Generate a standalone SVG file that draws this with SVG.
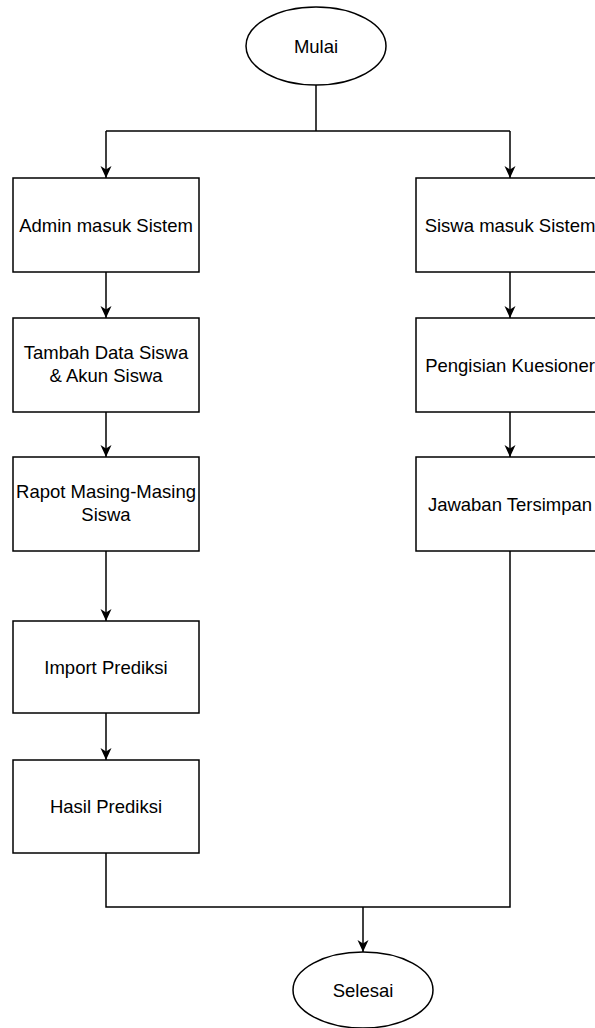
<svg xmlns="http://www.w3.org/2000/svg" width="595" height="1028" viewBox="0 0 595 1028">
<style>
.n{fill:#fff;stroke:#000;stroke-width:1.5}
.t{font-family:"Liberation Sans",Arial,sans-serif;font-size:18.5px;fill:#000;text-anchor:middle}
.c{fill:none;stroke:#000;stroke-width:1.5}
</style>
<defs>
<marker id="ah" viewBox="0 0 12 12" refX="12" refY="6" markerWidth="12" markerHeight="12" markerUnits="userSpaceOnUse" orient="auto">
<path d="M0,0.5 L12,6 L0,11.5 L3.5,6 z" fill="#000"/>
</marker>
</defs>
<rect width="595" height="1028" fill="#fff"/>
<g id="connectors">
<path class="c" d="M316,85 V131"/>
<path class="c" d="M106,131 H510"/>
<path class="c" d="M106,131 V178" marker-end="url(#ah)"/>
<path class="c" d="M510,131 V178" marker-end="url(#ah)"/>
<path class="c" d="M106,272 V318" marker-end="url(#ah)"/>
<path class="c" d="M106,412 V457" marker-end="url(#ah)"/>
<path class="c" d="M106,551 V621" marker-end="url(#ah)"/>
<path class="c" d="M106,713 V760" marker-end="url(#ah)"/>
<path class="c" d="M510,272 V318" marker-end="url(#ah)"/>
<path class="c" d="M510,412 V457" marker-end="url(#ah)"/>
<path class="c" d="M106,853 V907 H510 V551"/>
<path class="c" d="M363,907 V952" marker-end="url(#ah)"/>
</g>
<g id="mulai"><ellipse class="n" cx="316" cy="46" rx="70" ry="39"/><text class="t" x="316" y="52.5">Mulai</text></g>
<g id="admin"><rect class="n" x="13" y="178" width="186" height="94"/><text class="t" x="106" y="231.5">Admin masuk Sistem</text></g>
<g id="tambah"><rect class="n" x="13" y="318" width="186" height="94"/><text class="t" x="106" y="359">Tambah Data Siswa</text><text class="t" x="106" y="382">&amp; Akun Siswa</text></g>
<g id="rapot"><rect class="n" x="13" y="457" width="186" height="94"/><text class="t" x="106" y="498">Rapot Masing-Masing</text><text class="t" x="106" y="521">Siswa</text></g>
<g id="import"><rect class="n" x="13" y="621" width="186" height="92"/><text class="t" x="106" y="673.5">Import Prediksi</text></g>
<g id="hasil"><rect class="n" x="13" y="760" width="186" height="93"/><text class="t" x="106" y="813">Hasil Prediksi</text></g>
<g id="siswa"><rect class="n" x="416" y="178" width="188" height="94"/><text class="t" x="510" y="231.5">Siswa masuk Sistem</text></g>
<g id="pengisian"><rect class="n" x="416" y="318" width="188" height="94"/><text class="t" x="510" y="371.5">Pengisian Kuesioner</text></g>
<g id="jawaban"><rect class="n" x="416" y="457" width="188" height="94"/><text class="t" x="510" y="510.5">Jawaban Tersimpan</text></g>
<g id="selesai"><ellipse class="n" cx="363" cy="990" rx="70" ry="38"/><text class="t" x="363" y="997">Selesai</text></g>
</svg>
